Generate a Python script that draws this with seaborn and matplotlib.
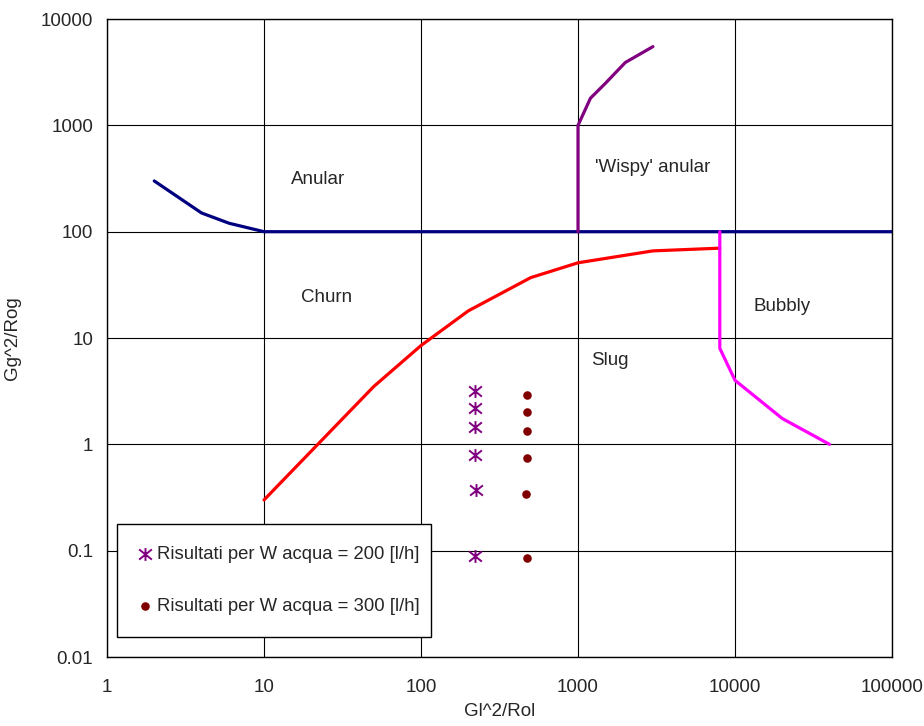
import numpy as np
import pandas as pd
import seaborn as sns
import matplotlib.pyplot as plt
import matplotlib.ticker as ticker
from matplotlib.path import Path

# boundary lines of the flow pattern map
anular_x = [2, 4, 6, 10, 100000]
anular_y = [300, 150, 120, 100, 100]

wispy_x = [1000, 1000, 1200, 1500, 2000, 3000]
wispy_y = [100, 1000, 1800, 2500, 3900, 5500]

churn_x = [10, 50, 100, 200, 500, 1000, 3000, 8000]
churn_y = [0.3, 3.5, 8.5, 18, 37, 51, 66, 70]

bubbly_x = [8000, 8000, 10000, 20000, 40000]
bubbly_y = [100, 8, 4, 1.75, 1]

# measured points
w200_x = [220, 220, 220, 220, 225, 220]
w200_y = [3.2, 2.2, 1.45, 0.8, 0.37, 0.09]

w300_x = [470, 470, 470, 470, 465, 475]
w300_y = [2.9, 2.0, 1.33, 0.74, 0.34, 0.086]

region_labels = ["Anular", "'Wispy' anular", "Churn", "Slug", "Bubbly"]
region_x = [22, 3000, 25, 1600, 20000]
region_y = [310, 400, 24, 6.1, 20]

x_ticks = [1, 10, 100, 1000, 10000, 100000]
y_ticks = [0.01, 0.1, 1, 10, 100, 1000, 10000]

sns.set_style("white")
plt.rcParams['font.family'] = ['Liberation Sans', 'DejaVu Sans']

fig, ax = plt.subplots(figsize=(9.24, 7.26), dpi=100)
fig.subplots_adjust(left=0.1158, right=0.9654, top=0.9738, bottom=0.095)

lines = [
    (anular_x, anular_y, '#000080'),
    (wispy_x, wispy_y, '#800080'),
    (churn_x, churn_y, '#ff0000'),
    (bubbly_x, bubbly_y, '#ff00ff'),
]
for xs, ys, c in lines:
    sns.lineplot(x=xs, y=ys, ax=ax, color=c, linewidth=2.3, sort=False,
                 estimator=None, zorder=3)

star = Path([(-1, -0.8), (1, 0.8), (-1, 0.8), (1, -0.8), (0, -1), (0, 1)],
            [Path.MOVETO, Path.LINETO, Path.MOVETO, Path.LINETO,
             Path.MOVETO, Path.LINETO])

sns.scatterplot(x=w200_x, y=w200_y, ax=ax, marker=star, s=85,
                color='#800080', edgecolor='#800080', linewidth=1.4,
                label='Risultati per W acqua = 200 [l/h]', zorder=4)
sns.scatterplot(x=w300_x, y=w300_y, ax=ax, marker='o', s=38,
                color='#800000', edgecolor='#800000', linewidth=0,
                label='Risultati per W acqua = 300 [l/h]', zorder=4)

ax.set_xscale('log')
ax.set_yscale('log')
ax.set_xlim(1, 100000)
ax.set_ylim(0.01, 10000)
ax.xaxis.set_major_locator(ticker.FixedLocator(x_ticks))
ax.yaxis.set_major_locator(ticker.FixedLocator(y_ticks))
ax.xaxis.set_minor_locator(ticker.NullLocator())
ax.yaxis.set_minor_locator(ticker.NullLocator())
fmt = ticker.FuncFormatter(lambda v, p: '{:g}'.format(v))
ax.xaxis.set_major_formatter(fmt)
ax.yaxis.set_major_formatter(fmt)

ax.grid(True, which='major', color='black', linewidth=0.8)
ax.set_axisbelow(True)
for sp in ax.spines.values():
    sp.set_color('black')
    sp.set_linewidth(1)

ax.tick_params(axis='y', length=6, width=1, color='black', labelsize=13.5, pad=4)
ax.tick_params(axis='x', length=0, labelsize=13.5, pad=16)

ax.set_xlabel('Gl^2/Rol', fontsize=13.5, labelpad=5)
ax.set_ylabel('Gg^2/Rog', fontsize=13.5, labelpad=14)

for lab, tx, ty in zip(region_labels, region_x, region_y):
    ax.text(tx, ty, lab, fontsize=13.5, ha='center', va='center', zorder=5)

leg = ax.legend(loc='lower left', bbox_to_anchor=(0.013, 0.031, 0.4, 0.179),
                mode='expand', fontsize=13.3, frameon=True, fancybox=False,
                edgecolor='black', framealpha=1, labelspacing=1.9,
                handlelength=0.6, handletextpad=0.35, borderpad=1.2,
                borderaxespad=0)
leg.get_frame().set_linewidth(1)

fig.savefig('out.png', dpi=100)
